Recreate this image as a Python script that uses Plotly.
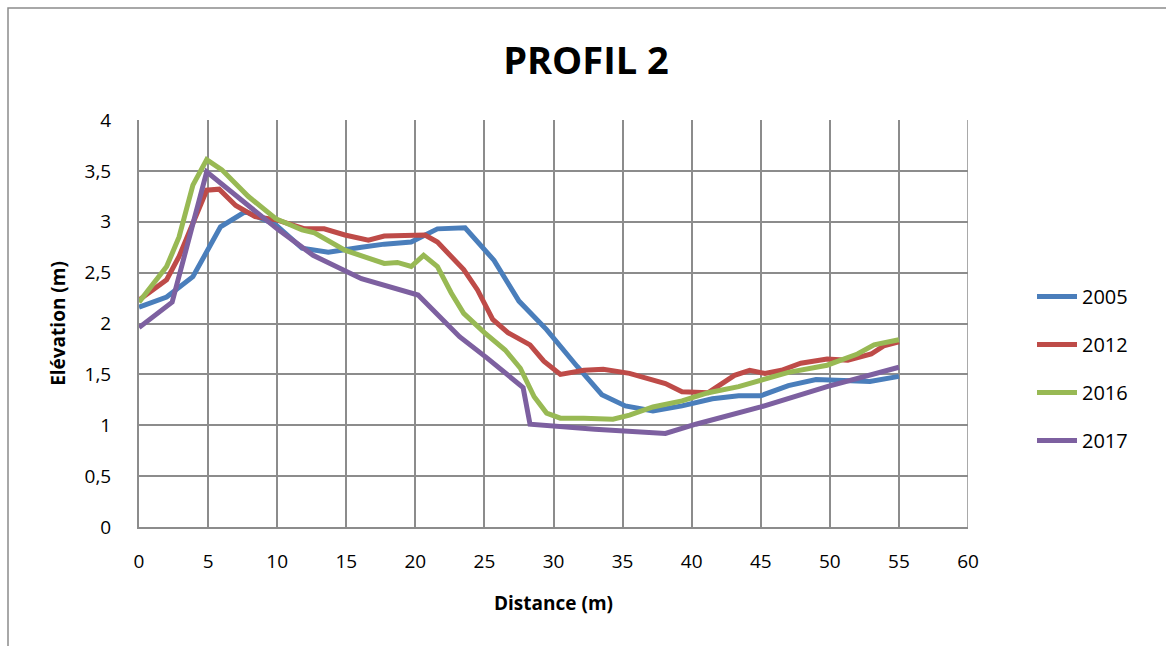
import plotly.graph_objects as go

# ---- data ----
x_2005 = [0, 2, 3.9, 5.9, 7.7, 9.9, 11.8, 13.7, 16.1, 17.75, 19.7, 20.7, 21.6, 23.6, 25.7, 27.5, 29.5, 31.7, 33.5, 35.2, 37.2, 39.3, 41.5, 43.4, 45, 47, 49, 51, 52.9, 55]
y_2005 = [2.16, 2.26, 2.46, 2.95, 3.10, 2.97, 2.74, 2.70, 2.75, 2.78, 2.80, 2.87, 2.93, 2.94, 2.62, 2.22, 1.94, 1.58, 1.30, 1.19, 1.14, 1.19, 1.26, 1.29, 1.29, 1.39, 1.45, 1.44, 1.43, 1.48]

x_2012 = [0, 2, 2.9, 3.9, 4.9, 5.8, 7, 8.4, 9.9, 12, 13.4, 14.9, 16.6, 17.75, 19.7, 20.7, 21.6, 23.5, 24.5, 25.6, 26.7, 28.3, 29.3, 30.5, 32.2, 33.6, 35.5, 36.9, 38.1, 39.3, 41.2, 43.1, 44.2, 45.3, 46.5, 47.9, 49.8, 51.3, 53, 53.9, 55]
y_2012 = [2.23, 2.43, 2.66, 2.98, 3.31, 3.32, 3.16, 3.05, 3.02, 2.93, 2.93, 2.87, 2.82, 2.86, 2.87, 2.87, 2.80, 2.53, 2.33, 2.04, 1.91, 1.79, 1.63, 1.50, 1.54, 1.55, 1.51, 1.46, 1.41, 1.33, 1.32, 1.49, 1.54, 1.51, 1.54, 1.61, 1.65, 1.64, 1.70, 1.78, 1.82]

x_2016 = [0, 1, 2, 2.9, 3.9, 4.9, 6, 7.9, 9.9, 11.8, 12.7, 14.9, 16.1, 17.75, 18.7, 19.7, 20.6, 21.6, 22.6, 23.5, 25, 26.5, 27.6, 28.6, 29.5, 30.5, 32.2, 34.3, 35.5, 37.2, 39.3, 41.2, 43.4, 45, 47, 49.8, 52, 53.2, 55]
y_2016 = [2.21, 2.38, 2.56, 2.85, 3.36, 3.61, 3.51, 3.25, 3.03, 2.92, 2.89, 2.72, 2.66, 2.59, 2.60, 2.56, 2.67, 2.56, 2.30, 2.10, 1.91, 1.74, 1.56, 1.28, 1.12, 1.07, 1.07, 1.06, 1.10, 1.18, 1.24, 1.32, 1.38, 1.44, 1.52, 1.59, 1.70, 1.79, 1.84]

x_2017 = [0, 2.4, 4.9, 10, 12.6, 16.1, 20.2, 23.2, 25.2, 27.8, 28.3, 33, 38.1, 40.3, 45, 49.8, 55]
y_2017 = [1.96, 2.21, 3.49, 2.93, 2.67, 2.44, 2.28, 1.87, 1.66, 1.37, 1.01, 0.96, 0.92, 1.01, 1.18, 1.38, 1.57]

series_names = ["2005", "2012", "2016", "2017"]
series_colors = ["#4A7EBB", "#BE4B48", "#98B954", "#7D60A0"]
series_x = [x_2005, x_2012, x_2016, x_2017]
series_y = [y_2005, y_2012, y_2016, y_2017]

x_ticks = list(range(0, 61, 5))
y_ticks = [0, 0.5, 1, 1.5, 2, 2.5, 3, 3.5, 4]

FONT = "Open Sans"
W, H = 1166, 646
L, R, T, B = 139, 968, 120, 527

fig = go.Figure()
for i, (name, col, xs, ys) in enumerate(zip(series_names, series_colors, series_x, series_y)):
    fig.add_trace(go.Scatter(
        x=xs, y=ys, name=name, mode="lines",
        line=dict(color=col, width=5),
        legendgroup=f"g{i}",
    ))

def px_x(p):
    return (p - L) / (R - L)

def px_y(p):
    return (B - p) / (B - T)

fig.update_layout(
    width=W, height=H,
    margin=dict(l=L, r=W - R, t=T, b=H - B),
    paper_bgcolor="white", plot_bgcolor="white",
    separators=", ",
    font=dict(family=FONT, size=19, color="black"),
    title=dict(text="<b>PROFIL 2</b>", xref="container", x=586 / W, xanchor="center",
               yref="container", y=1 - 61 / H, yanchor="middle",
               font=dict(family=FONT, size=38, color="black")),
    xaxis=dict(range=[0, 60], tickvals=x_ticks, showgrid=True,
               gridcolor="#8C8C8C", gridwidth=1.5,
               showline=True, linecolor="#8C8C8C", linewidth=2,
               zeroline=False, ticks="", ticklabelstandoff=16,
               title=dict(text="<b>Distance (m)</b>", standoff=24,
                          font=dict(family=FONT, size=19))),
    yaxis=dict(range=[0, 4], tickvals=y_ticks, showgrid=True,
               gridcolor="#8C8C8C", gridwidth=1.5,
               showline=True, linecolor="#8C8C8C", linewidth=2,
               mirror=False, zeroline=False, ticks="", ticklabelstandoff=22,
               title=dict(text="<b>Elévation (m)</b>", standoff=14,
                          font=dict(family=FONT, size=19))),
    legend=dict(x=px_x(1032), xanchor="left", y=px_y(277), yanchor="top",
                font=dict(family=FONT, size=20), tracegroupgap=19,
                bgcolor="rgba(0,0,0,0)", itemwidth=40),
    showlegend=True,
)

# right border of plot area (last gridline)
fig.add_shape(type="line", xref="x", yref="paper", x0=60, x1=60, y0=0, y1=1,
              line=dict(color="#8C8C8C", width=1.5))

# chart outer frame
fig.add_shape(type="rect", xref="paper", yref="paper",
              x0=px_x(8), x1=px_x(1175), y0=px_y(655), y1=px_y(8),
              line=dict(color="#8C8C8C", width=1.5), fillcolor="rgba(0,0,0,0)",
              layer="below")

fig.write_html("out.html", config={"displayModeBar": False},
               post_script="document.body.style.margin='0px';document.body.style.overflow='hidden';")
